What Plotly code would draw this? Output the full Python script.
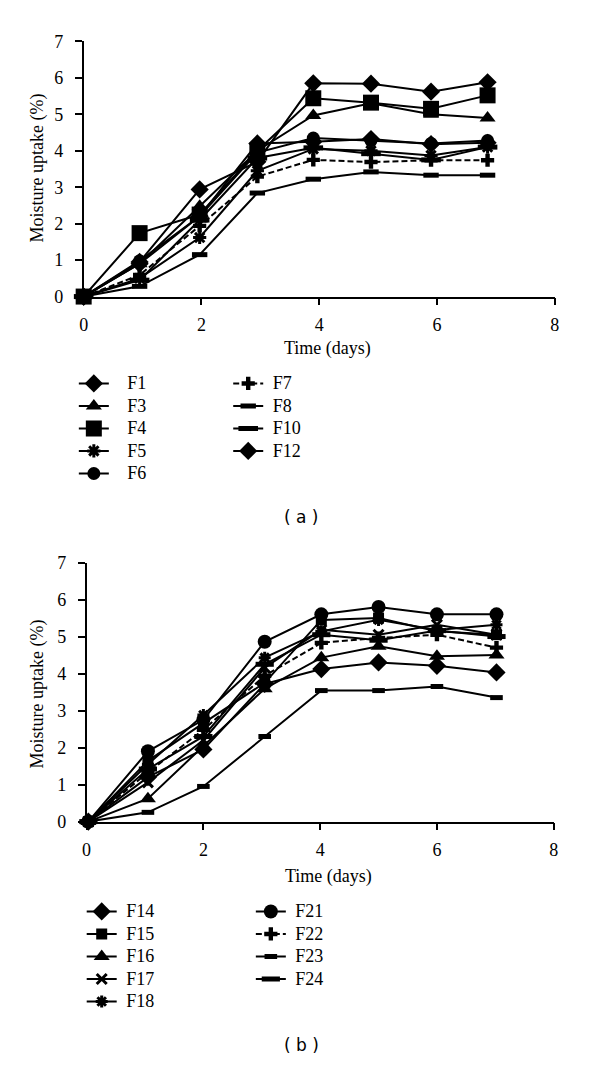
import plotly.graph_objects as go

# ---------------- data: panel (a) ----------------
days_a = [0, 0.95, 1.97, 2.95, 3.9, 4.88, 5.9, 6.86]
F1 = [0, 0.95, 2.94, 3.7, 5.85, 5.84, 5.62, 5.88]
F3 = [0, 0.9, 2.48, 4.0, 4.97, 5.3, 5.0, 4.9]
F4 = [0, 1.74, 2.25, 4.0, 5.44, 5.32, 5.15, 5.52]
F5 = [0, 0.5, 1.62, 3.45, 4.05, 4.0, 3.87, 4.1]
F6 = [0, 0.98, 2.2, 3.95, 4.35, 4.28, 4.2, 4.28]
F7 = [0, 0.59, 1.94, 3.29, 3.75, 3.69, 3.74, 3.74]
F8 = [0, 0.28, 1.15, 2.84, 3.22, 3.42, 3.33, 3.33]
F10 = [0, 0.45, 2.1, 3.8, 4.08, 3.92, 3.75, 4.1]
F12 = [0, 0.9, 2.2, 4.2, 4.25, 4.32, 4.18, 4.22]

# ---------------- data: panel (b) ----------------
days_b = [0.03, 1.05, 2.0, 3.05, 4.02, 5.0, 6.0, 7.02]
F14 = [0, 1.2, 1.95, 3.72, 4.12, 4.3, 4.21, 4.03]
F15 = [0, 1.64, 2.66, 3.75, 5.45, 5.5, 5.14, 5.05]
F16 = [0, 0.62, 2.04, 3.59, 4.43, 4.74, 4.47, 4.5]
F17 = [0, 1.06, 2.2, 4.16, 5.18, 5.05, 5.32, 5.05]
F18 = [0, 1.55, 2.88, 4.43, 5.14, 5.45, 5.18, 5.32]
F21 = [0, 1.9, 2.75, 4.86, 5.6, 5.8, 5.6, 5.6]
F22 = [0, 1.33, 2.48, 3.94, 4.83, 4.96, 5.05, 4.7]
F23 = [0, 0.25, 0.95, 2.3, 3.54, 3.54, 3.65, 3.35]
F24 = [0, 1.42, 2.3, 4.25, 5.05, 4.9, 5.16, 5.0]

x_ticks = [0, 2, 4, 6, 8]
y_ticks = [0, 1, 2, 3, 4, 5, 6, 7]
x_title = "Time (days)"
y_title = "Moisture uptake (%)"

SERIF = "Liberation Serif, Times New Roman, serif"
SANS = "DejaVu Sans, Verdana, sans-serif"
NB = "\u00a0"

fig = go.Figure()


def add(x, y, name, symbol, size, xa, ya, legend, pad=1, dash="solid", mline=0):
    fig.add_trace(go.Scatter(
        x=x, y=y, mode="lines+markers",
        name='<span style="font-size:18px">' + NB * pad + name + "</span>",
        xaxis=xa, yaxis=ya, legend=legend, cliponaxis=False,
        line=dict(color="black", width=2, dash=dash),
        marker=dict(symbol=symbol, size=size, color="black",
                    line=dict(color="black", width=mline)),
    ))


# panel (a)
add(days_a, F1, "F1", "diamond", 14, "x", "y", "legend", pad=3)
add(days_a, F3, "F3", "triangle-up", 14, "x", "y", "legend", pad=3)
add(days_a, F4, "F4", "square", 16, "x", "y", "legend", pad=3)
add(days_a, F5, "F5", "asterisk", 11, "x", "y", "legend", pad=3, mline=3)
add(days_a, F6, "F6", "circle", 13, "x", "y", "legend", pad=3)
add(days_a, F7, "F7", "cross", 11, "x", "y", "legend2", dash="6px,3px")
add(days_a, F8, "F8", "line-ew", 11, "x", "y", "legend2", mline=5)
add(days_a, F10, "F10", "line-ew", 14, "x", "y", "legend2", mline=5)
add(days_a, F12, "F12", "diamond", 14, "x", "y", "legend2")

# panel (b)
add(days_b, F14, "F14", "diamond", 14, "x2", "y2", "legend3")
add(days_b, F15, "F15", "square", 11, "x2", "y2", "legend3")
add(days_b, F16, "F16", "triangle-up", 14, "x2", "y2", "legend3")
add(days_b, F17, "F17", "x-thin", 10, "x2", "y2", "legend3", mline=3)
add(days_b, F18, "F18", "asterisk", 10, "x2", "y2", "legend3", mline=3)
add(days_b, F21, "F21", "circle", 14, "x2", "y2", "legend4")
add(days_b, F22, "F22", "cross", 11, "x2", "y2", "legend4", dash="6px,3px")
add(days_b, F23, "F23", "line-ew", 9, "x2", "y2", "legend4", mline=5)
add(days_b, F24, "F24", "line-ew", 13, "x2", "y2", "legend4", mline=5)

W, H = 600, 1074


def px(x):
    return x / W


def py(y):
    return 1 - y / H


axis_common = dict(showline=True, linecolor="black", linewidth=1.5,
                   ticks="outside", ticklen=7, tickwidth=1.5, tickcolor="black",
                   showgrid=False, zeroline=False,
                   tickfont=dict(family=SERIF, size=18, color="black"))

xa_common = dict(axis_common, range=[0, 8], tickvals=x_ticks, ticklabelstandoff=4)
ya_common = dict(axis_common, range=[0, 7], tickvals=y_ticks, ticklabelstandoff=8)

leg_common = dict(font=dict(family=SERIF, size=15, color="black"), bgcolor="rgba(0,0,0,0)",
                  itemwidth=30, xanchor="left", yanchor="top", tracegroupgap=0,
                  orientation="v")

title_font = dict(family=SERIF, size=18, color="black")


def ann(text, x, y, font, angle=0):
    return dict(text=text, x=px(x), y=py(y), xref="paper", yref="paper",
                showarrow=False, font=font, textangle=angle,
                xanchor="center", yanchor="middle")


fig.update_layout(
    width=W, height=H, margin=dict(l=0, r=0, t=0, b=0),
    paper_bgcolor="white", plot_bgcolor="white",
    showlegend=True,
    xaxis=dict(xa_common, domain=[px(80), px(559)], anchor="y"),
    yaxis=dict(ya_common, domain=[py(292), py(32)], anchor="x"),
    xaxis2=dict(xa_common, domain=[px(83), px(558)], anchor="y2"),
    yaxis2=dict(ya_common, domain=[py(827), py(563)], anchor="x2"),
    legend=dict(leg_common, x=px(70), y=py(364)),
    legend2=dict(leg_common, x=px(227), y=py(364)),
    legend3=dict(leg_common, x=px(78), y=py(902)),
    legend4=dict(leg_common, x=px(250), y=py(902)),
    annotations=[
        ann(x_title, 328, 345, title_font),
        ann(x_title, 329, 883, title_font),
        ann(y_title, 33, 161, title_font, -90),
        ann(y_title, 33, 697, title_font, -90),
        ann("( a )", 302, 517, dict(family=SANS, size=17, color="black")),
        ann("( b )", 302, 1055, dict(family=SANS, size=17, color="black")),
    ],
)

fig.write_html("out.html", config={"displayModeBar": False},
               post_script="document.body.style.margin='0';document.body.style.overflow='hidden';")
